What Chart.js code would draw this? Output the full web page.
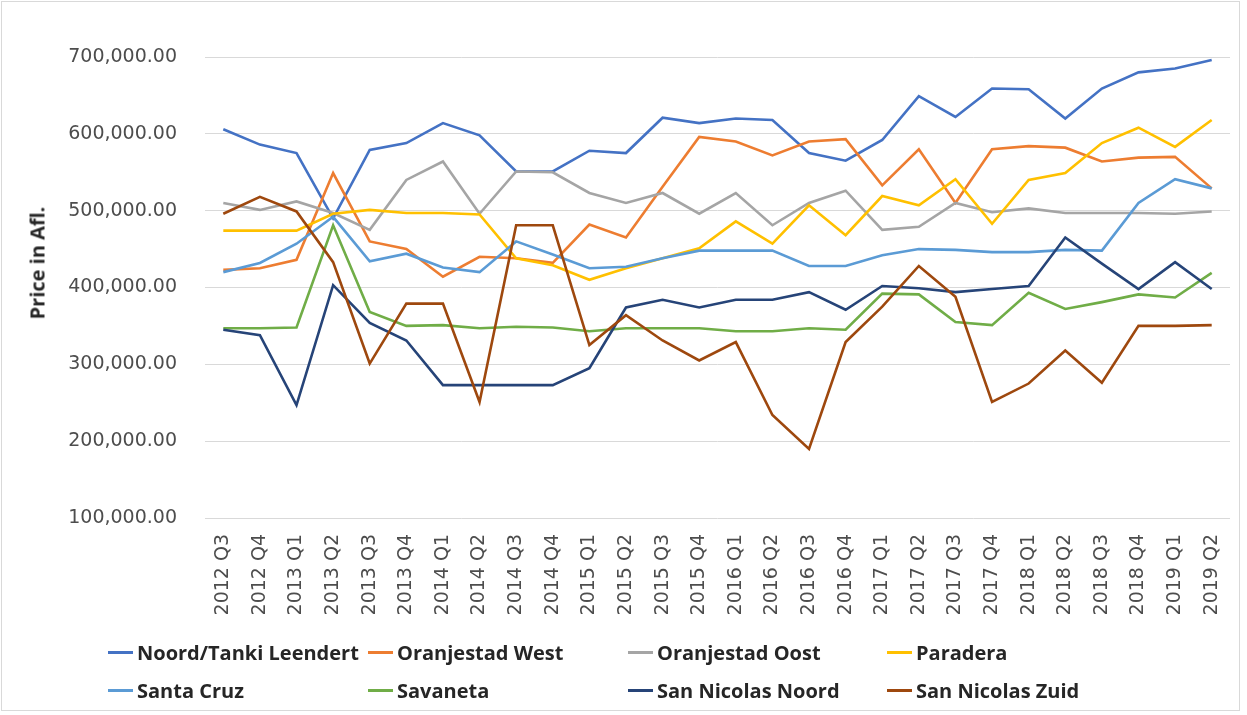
<!DOCTYPE html>
<html>
<head>
<meta charset="utf-8">
<script src="https://cdn.jsdelivr.net/npm/chart.js@4"></script>
<style>
    html, body { margin: 0; padding: 0; background: #ffffff; }
    #wrap { position: relative; width: 1247px; height: 715px; overflow: hidden; }
    #frame { position: absolute; left: 1px; top: 1px; width: 1237px; height: 708px; border: 1px solid #d9d9d9; pointer-events: none; }
    #yTitle {
        position: absolute; left: 37px; top: 263px;
        transform: translate(-50%, -50%) rotate(-90deg);
        font: 700 20px 'Open Sans', sans-serif; color: #262626; white-space: nowrap;
    }
    .leg { position: absolute; display: flex; align-items: center; font: 700 20px 'Open Sans', sans-serif; color: #262626; white-space: nowrap; }
    .leg span.mark { display: inline-block; width: 25px; height: 3px; margin-right: 4px; }
</style>
</head>
<body>
<div id="wrap">
    <canvas id="chart" width="1247" height="715"></canvas>
    <div id="yTitle">Price in Afl.</div>
    <div id="legend"></div>
    <div id="frame"></div>
</div>
<script>
const quarters = [
    '2012 Q3', '2012 Q4',
    '2013 Q1', '2013 Q2', '2013 Q3', '2013 Q4',
    '2014 Q1', '2014 Q2', '2014 Q3', '2014 Q4',
    '2015 Q1', '2015 Q2', '2015 Q3', '2015 Q4',
    '2016 Q1', '2016 Q2', '2016 Q3', '2016 Q4',
    '2017 Q1', '2017 Q2', '2017 Q3', '2017 Q4',
    '2018 Q1', '2018 Q2', '2018 Q3', '2018 Q4',
    '2019 Q1', '2019 Q2'
];

const noordTankiLeendert = [606000, 586000, 575000, 490000, 579000, 588000, 614000, 598000, 551000, 551000, 578000, 575000, 621000, 614000, 620000, 618000, 575000, 565000, 592000, 649000, 622000, 659000, 658000, 620000, 659000, 680000, 685000, 696000];
const oranjestadWest = [423000, 425000, 436000, 549000, 460000, 450000, 414000, 440000, 438000, 432000, 482000, 465000, 531000, 596000, 590000, 572000, 590000, 593000, 533000, 580000, 510000, 580000, 584000, 582000, 564000, 569000, 570000, 529000];
const oranjestadOost = [510000, 501000, 512000, 497000, 475000, 540000, 564000, 496000, 551000, 550000, 523000, 510000, 523000, 496000, 523000, 481000, 510000, 526000, 475000, 479000, 510000, 498000, 503000, 497000, 497000, 497000, 496000, 499000];
const paradera = [474000, 474000, 474000, 496000, 501000, 497000, 497000, 495000, 438000, 429000, 410000, 425000, 438000, 451000, 486000, 457000, 507000, 468000, 519000, 507000, 541000, 483000, 540000, 549000, 588000, 608000, 583000, 618000];
const santaCruz = [420000, 432000, 457000, 492000, 434000, 444000, 426000, 420000, 460000, 443000, 425000, 427000, 438000, 448000, 448000, 448000, 428000, 428000, 442000, 450000, 449000, 446000, 446000, 449000, 448000, 510000, 541000, 529000];
const savaneta = [347000, 347000, 348000, 481000, 368000, 350000, 351000, 347000, 349000, 348000, 343000, 347000, 347000, 347000, 343000, 343000, 347000, 345000, 392000, 391000, 355000, 351000, 393000, 372000, 381000, 391000, 387000, 419000];
const sanNicolasNoord = [345000, 338000, 247000, 403000, 354000, 331000, 273000, 273000, 273000, 273000, 295000, 374000, 384000, 374000, 384000, 384000, 394000, 371000, 402000, 399000, 394000, 398000, 402000, 465000, 431000, 398000, 433000, 398000];
const sanNicolasZuid = [496000, 518000, 499000, 433000, 301000, 379000, 379000, 251000, 481000, 481000, 325000, 364000, 331000, 305000, 329000, 234000, 190000, 329000, 375000, 428000, 388000, 251000, 275000, 318000, 276000, 350000, 350000, 351000];

const seriesNames = ['Noord/Tanki Leendert', 'Oranjestad West', 'Oranjestad Oost', 'Paradera', 'Santa Cruz', 'Savaneta', 'San Nicolas Noord', 'San Nicolas Zuid'];
const seriesValues = [noordTankiLeendert, oranjestadWest, oranjestadOost, paradera, santaCruz, savaneta, sanNicolasNoord, sanNicolasZuid];
const seriesColors = ['#4472C4', '#ED7D31', '#A5A5A5', '#FFC000', '#5B9BD5', '#70AD47', '#264478', '#9E480E'];
const yTicks = [100000, 200000, 300000, 400000, 500000, 600000, 700000];

const tickColor = '#4d4d4d';
const tickFont = { family: 'DejaVu Sans', size: 19 };

const datasets = seriesNames.map((name, i) => ({
    label: name,
    data: seriesValues[i],
    borderColor: seriesColors[i],
    backgroundColor: seriesColors[i],
    borderWidth: 2.6,
    pointRadius: 0,
    pointHoverRadius: 0,
    tension: 0,
    fill: false,
    // excel paints later series on top
    order: seriesNames.length - i
}));

const ctx = document.getElementById('chart').getContext('2d');
const chart = new Chart(ctx, {
    type: 'line',
    data: { labels: quarters, datasets: datasets },
    options: {
        responsive: false,
        animation: false,
        devicePixelRatio: 1,
        layout: {
            padding: { top: 57, right: 17, bottom: 0, left: 0 }
        },
        scales: {
            x: {
                offset: true,
                grid: { display: false },
                border: { display: false },
                ticks: {
                    autoSkip: false,
                    minRotation: 90,
                    maxRotation: 90,
                    padding: 8,
                    color: tickColor,
                    font: tickFont
                },
                afterFit: function(scale) {
                    scale.height = 197;
                }
            },
            y: {
                min: yTicks[0],
                max: yTicks[yTicks.length - 1],
                grid: { color: '#d9d9d9', lineWidth: 1, drawTicks: false },
                border: { display: false },
                afterBuildTicks: function(scale) {
                    scale.ticks = yTicks.map(v => ({ value: v }));
                },
                ticks: {
                    padding: 28,
                    color: tickColor,
                    font: tickFont,
                    callback: function(value) {
                        return value.toLocaleString('en-US', { minimumFractionDigits: 2, maximumFractionDigits: 2 });
                    }
                },
                afterFit: function(scale) {
                    scale.width = 205;
                }
            }
        },
        plugins: {
            legend: { display: false },
            tooltip: { enabled: false }
        }
    }
});

// legend laid out in Excel-like columns
const legendCols = [108, 368, 628, 887];
const legendRows = [652, 690];
const legendBox = document.getElementById('legend');
chart.data.datasets.forEach((ds, i) => {
    const item = document.createElement('div');
    item.className = 'leg';
    item.style.left = legendCols[i % 4] + 'px';
    item.style.top = (legendRows[Math.floor(i / 4)] - 13) + 'px';
    item.style.height = '26px';
    const mark = document.createElement('span');
    mark.className = 'mark';
    mark.style.background = ds.borderColor;
    item.appendChild(mark);
    item.appendChild(document.createTextNode(ds.label));
    legendBox.appendChild(item);
});
</script>
</body>
</html>
